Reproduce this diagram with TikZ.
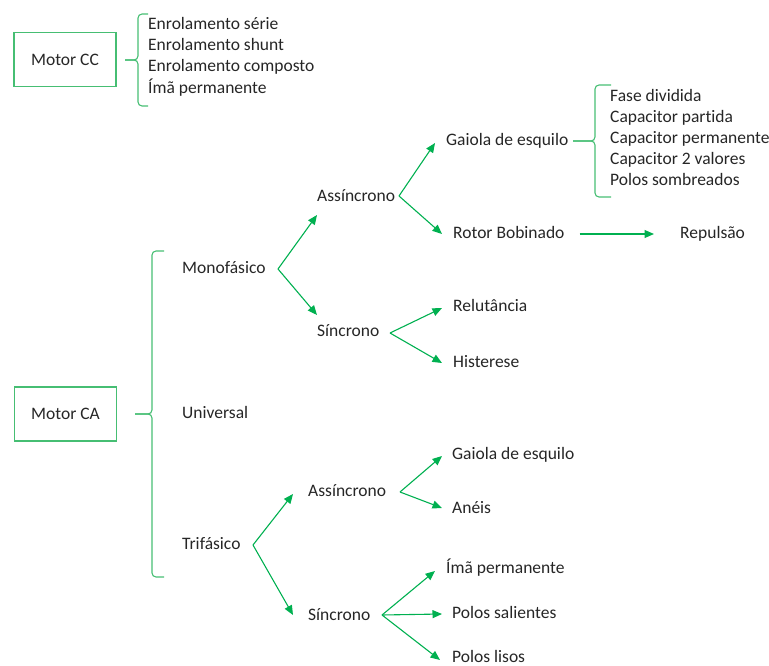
\documentclass[tikz,border=0pt]{standalone}
\usepackage{fontspec}
\setmainfont{Carlito}[Ligatures=NoCommon]
\usetikzlibrary{arrows.meta}

\definecolor{lineGreen}{RGB}{0,176,80}
\definecolor{boxGreen}{RGB}{70,190,115}
\definecolor{txtGray}{RGB}{38,38,38}

\tikzset{
  lbl/.style={anchor=west, inner sep=0pt, text height=0.97em, text depth=0pt,
    text=txtGray, font=\fontsize{17.5}{21}\selectfont},
  motorbox/.style={draw=boxGreen, line width=1.1pt, minimum width=102pt,
    minimum height=54pt, text=txtGray, font=\fontsize{17.5}{21}\selectfont},
  arr/.style={draw=lineGreen, line width=1.1pt, -{Triangle[length=9.5pt,width=8pt]}},
  bracepath/.style={draw=boxGreen, line width=1.1pt, rounded corners=4pt}
}

\begin{document}
\begin{tikzpicture}[x=1pt,y=-1pt]
\useasboundingbox (0,0) rectangle (769,666);

% motor CC
\node[motorbox] (cc) at (65,59.5) {Motor CC};
\draw[bracepath] (148,14) -- (138,14) -- (138,60) -- (125,60);
\draw[bracepath] (125,60) -- (138,60) -- (138,106) -- (148,106);
\foreach \t [count=\i] in {Enrolamento série, Enrolamento shunt, Enrolamento composto, Ímã permanente}
  \node[lbl] (cc\i) at (148,{24.5+21.3*(\i-1)}) {\t};

% motor CA
\node[motorbox] (ca) at (65.5,414) {Motor CA};
\draw[bracepath] (164,251) -- (152,251) -- (152,414) -- (135,414);
\draw[bracepath] (135,414) -- (152,414) -- (152,577) -- (164,577);

\node[lbl] (mono) at (182,269) {Monofásico};
\node[lbl] (univ) at (182,414) {Universal};
\node[lbl] (tri) at (182,545) {Trifásico};

% monofasico
\coordinate (fmono) at (278,269);
\node[lbl] (assm) at (317,197) {Assíncrono};
\node[lbl] (sinm) at (317,332) {Síncrono};
\draw[arr] (fmono) -- ([shift={(0,18)}]assm.west);
\draw[arr] (fmono) -- ([shift={(0,-17)}]sinm.west);

\coordinate (fassm) at (399,196);
\node[lbl] (gaim) at (446,141) {Gaiola de esquilo};
\node[lbl] (rotor) at (453,234) {Rotor Bobinado};
\node[lbl] (rep) at (680,234) {Repulsão};
\draw[arr] (fassm) -- ([shift={(-11,2)}]gaim.west);
\draw[arr] (fassm) -- ([shift={(-11,0)}]rotor.west);
\draw[arr, shorten >=26pt] ([xshift=15pt]rotor.east) -- (rep.west);

\draw[bracepath] (611,85) -- (595,85) -- (595,141) -- (573,141);
\draw[bracepath] (573,141) -- (595,141) -- (595,197) -- (611,197);
\foreach \t [count=\i] in {Fase dividida, Capacitor partida, Capacitor permanente, Capacitor 2 valores, Polos sombreados}
  \node[lbl] (gl\i) at (610,{96.5+21*(\i-1)}) {\t};

\coordinate (fsinm) at (390,333);
\node[lbl] (relut) at (453,307) {Relutância};
\node[lbl] (hist) at (453,363) {Histerese};
\draw[arr] (fsinm) -- ([shift={(-11,1)}]relut.west);
\draw[arr] (fsinm) -- ([shift={(-11,0)}]hist.west);

% trifasico
\coordinate (ftri) at (253,545);
\node[lbl] (asst) at (308,492) {Assíncrono};
\node[lbl] (sint) at (308,616) {Síncrono};
\draw[arr] (ftri) -- ([shift={(-15,2)}]asst.west);
\draw[arr] (ftri) -- ([shift={(-15,-1)}]sint.west);

\coordinate (fasst) at (400,492);
\node[lbl] (gait) at (452,455) {Gaiola de esquilo};
\node[lbl] (aneis) at (452,509) {Anéis};
\draw[arr] (fasst) -- ([shift={(-10,1)}]gait.west);
\draw[arr] (fasst) -- ([shift={(-10,-1)}]aneis.west);

\coordinate (fsint) at (382,615);
\node[lbl] (ima) at (446,569) {Ímã permanente};
\node[lbl] (psal) at (452,614) {Polos salientes};
\node[lbl] (plis) at (452,658) {Polos lisos};
\draw[arr] (fsint) -- ([shift={(-11,2)}]ima.west);
\draw[arr] (fsint) -- ([shift={(-10,0)}]psal.west);
\draw[arr] (fsint) -- ([shift={(-12,2)}]plis.west);

\end{tikzpicture}
\end{document}
